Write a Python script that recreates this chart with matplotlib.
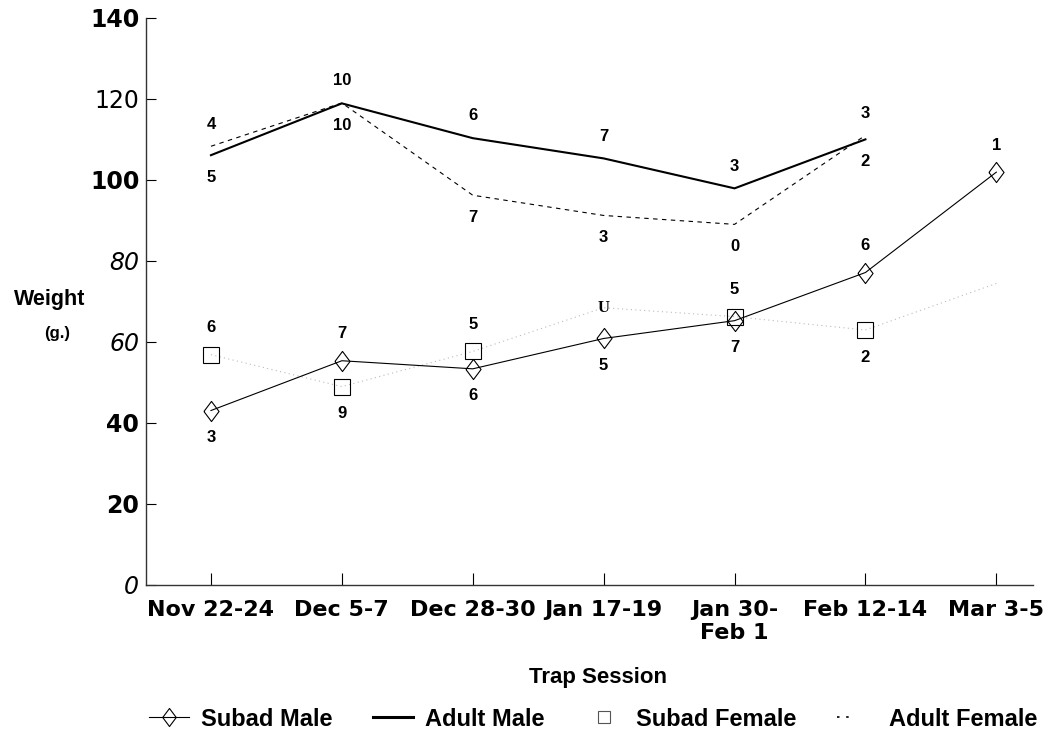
import matplotlib.pyplot as plt
from matplotlib.lines import Line2D

sessions = ['Nov 22-24', 'Dec 5-7', 'Dec 28-30', 'Jan 17-19',
            'Jan 30-\nFeb 1', 'Feb 12-14', 'Mar 3-5']

# mean body weight (g) per trap session
subad_male = [43.0, 55.3, 53.3, 60.8, 65.2, 77.1, 101.9]
adult_male = [106.1, 118.9, 110.3, 105.3, 97.9, 110.0]
subad_female = [56.8, 48.9, 57.6, 68.4, 66.2, 62.9, 74.4]
adult_female = [108.3, 119.0, 96.2, 91.2, 89.0, 111.0]

# sample sizes, printed above the upper / below the lower line of each pair
adult_n_upper = ['4', '10', '6', '7', '3', '3']
adult_n_lower = ['5', '10', '7', '3', '0', '2']
subad_n_upper = ['6', '7', '5', '', '5', '6', '1']
subad_n_lower = ['3', '9', '6', '5', '7', '2', '']

yticks = [0, 20, 40, 60, 80, 100, 120, 140]
ytick_style = [('normal', 'italic'), ('bold', 'normal'), ('bold', 'normal'),
               ('normal', 'italic'), ('normal', 'italic'), ('bold', 'normal'),
               ('normal', 'normal'), ('bold', 'normal')]

# open diamond, a bit narrower than it is tall
diamond = [(-0.75, 0), (0, 1), (0.75, 0), (0, -1), (-0.75, 0)]

plt.rcParams['font.family'] = ['Liberation Sans', 'DejaVu Sans']

fig = plt.figure(figsize=(10.47, 7.37), dpi=100)
ax = fig.add_axes([0.139, 0.2069, 0.8476, 0.7687])

x = list(range(len(sessions)))
xa = x[:len(adult_male)]

ax.plot(xa, adult_male, color='black', lw=1.5, zorder=3)
ax.plot(xa, adult_female, color='black', lw=0.8, ls=(0, (4, 4)), zorder=3)
ax.plot(x, subad_female, color='#bbbbbb', lw=0.8, ls=(0, (1, 3)),
        marker='s', ms=11, mfc='none', mec='black', mew=0.8,
        markevery=[0, 1, 2, 4, 5], zorder=2)
ax.plot(x, subad_male, color='black', lw=0.8, marker=diamond, ms=14.5,
        mfc='none', mec='black', mew=0.8, zorder=4)
# the Jan 17-19 subadult female point is marked with a U
ax.text(3, subad_female[3], 'U', ha='center', va='center', fontsize=12,
        fontweight='bold', family='Liberation Serif')


def label_pair(a, b, upper, lower, off):
    for i, (u, l) in enumerate(zip(upper, lower)):
        hi = max(a[i], b[i])
        lo = min(a[i], b[i])
        if u:
            ax.annotate(u, (i, hi), xytext=(0, off), textcoords='offset points',
                        ha='center', va='center', fontsize=12, fontweight='bold')
        if l:
            ax.annotate(l, (i, lo), xytext=(0, -off), textcoords='offset points',
                        ha='center', va='center', fontsize=12, fontweight='bold')


label_pair(adult_male, adult_female, adult_n_upper, adult_n_lower, 16)
label_pair(subad_male, subad_female, subad_n_upper, subad_n_lower, 19.5)

ax.set_xlim(-0.5, 6.28)
ax.set_ylim(0, 140)
ax.set_xticks(x)
ax.set_xticklabels(sessions, fontsize=16, fontweight='bold', family='DejaVu Sans')
ax.set_yticks(yticks)
ax.set_yticklabels([str(v) for v in yticks], fontsize=17, family='DejaVu Sans')
for lbl, (w, s) in zip(ax.get_yticklabels(), ytick_style):
    lbl.set_fontweight(w)
    lbl.set_fontstyle(s)

ax.tick_params(axis='x', direction='in', length=8.5, width=0.8, pad=11)
ax.tick_params(axis='y', direction='in', length=7, width=0.8, pad=4.5)
for side in ['top', 'right']:
    ax.spines[side].set_visible(False)
for side in ['left', 'bottom']:
    ax.spines[side].set_color('#333333')
    ax.spines[side].set_linewidth(1)

fig.text(50 / 1047, 1 - 299 / 737, 'Weight', ha='center', va='center',
         fontsize=15.5, fontweight='bold')
fig.text(57 / 1047, 1 - 333 / 737, '(g.)', ha='center', va='center',
         fontsize=12, fontweight='bold')
fig.text(598 / 1047, 1 - 677 / 737, 'Trap Session', ha='center', va='center',
         fontsize=16, fontweight='bold')

handles = [
    Line2D([], [], color='black', lw=0.8, marker=diamond, ms=13, mfc='none', mew=0.8),
    Line2D([], [], color='black', lw=2.2),
    Line2D([], [], ls='none', marker='s', ms=9, mfc='none', mec='#555555', mew=0.8),
    Line2D([], [], color='black', lw=1.2, ls=(0, (1.5, 4, 1.5, 40))),
]
names = ['Subad Male', 'Adult Male', 'Subad Female', 'Adult Female']
fig.legend(handles, names, loc='center', bbox_to_anchor=(593 / 1047, 1 - 719 / 737),
           ncol=4, frameon=False, prop={'size': 17, 'weight': 'bold'},
           handlelength=1.7, handletextpad=0.5, columnspacing=1.7, borderpad=0)

fig.savefig('out.png', dpi=100)
